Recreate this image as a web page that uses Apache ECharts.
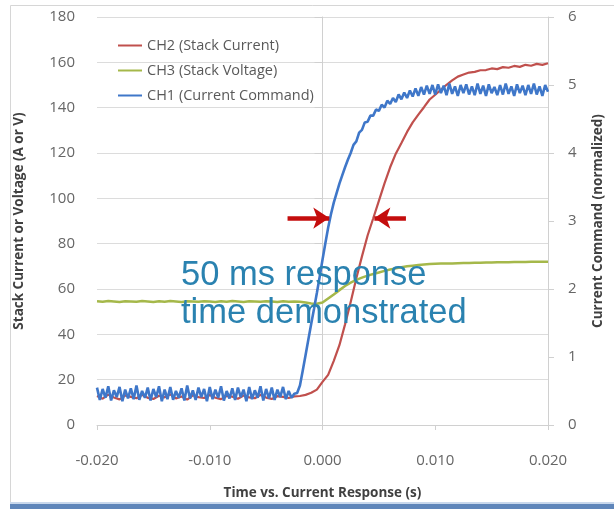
<!DOCTYPE html>
<html><head><meta charset="utf-8">
<script src="https://cdn.jsdelivr.net/npm/echarts@6/dist/echarts.min.js"></script>
<style>html,body{margin:0;padding:0;background:#fff}#c{width:614px;height:509px}</style>
</head><body><div id="c"></div>
<script>
// time samples (s) for CH2 / CH3
const timeS = [-0.0200,-0.0195,-0.0190,-0.0185,-0.0180,-0.0175,-0.0170,-0.0165,-0.0160,-0.0155,
-0.0150,-0.0145,-0.0140,-0.0135,-0.0130,-0.0125,-0.0120,-0.0115,-0.0110,-0.0105,
-0.0100,-0.0095,-0.0090,-0.0085,-0.0080,-0.0075,-0.0070,-0.0065,-0.0060,-0.0055,
-0.0050,-0.0045,-0.0040,-0.0035,-0.0030,-0.0025,-0.0020,-0.0015,-0.0010,-0.0005,
0.0000,0.0005,0.0010,0.0015,0.0020,0.0025,0.0030,0.0035,0.0040,0.0045,
0.0050,0.0055,0.0060,0.0065,0.0070,0.0075,0.0080,0.0085,0.0090,0.0095,
0.0100,0.0105,0.0110,0.0115,0.0120,0.0125,0.0130,0.0135,0.0140,0.0145,
0.0150,0.0155,0.0160,0.0165,0.0170,0.0175,0.0180,0.0185,0.0190,0.0195,0.0200];

// CH2 Stack Current (A) - left axis
const ch2Current = [12.8,11.6,13.4,12.1,11.3,13.0,12.4,11.8,13.3,12.0,
11.5,12.9,12.2,13.5,11.7,12.6,11.2,13.1,12.3,11.9,
13.2,12.0,11.4,12.8,12.5,11.6,13.0,12.2,11.8,13.3,
12.1,11.5,12.7,12.4,11.9,12.6,12.8,13.3,14.2,15.6,
19.0,22.1,28.3,35.2,44.4,54.3,64.7,74.4,83.6,91.2,
98.9,106.6,113.7,119.7,124.4,129.3,133.5,136.9,140.2,143.6,
145.7,147.9,150.1,152.0,153.7,154.6,155.5,155.8,156.5,156.6,
157.3,157.0,157.9,157.6,158.4,158.0,158.9,158.5,159.3,158.9,159.6];

// CH3 Stack Voltage (V) - left axis
const ch3Voltage = [54.6,54.4,54.7,54.5,54.3,54.6,54.5,54.4,54.7,54.5,
54.3,54.6,54.4,54.7,54.5,54.3,54.6,54.5,54.4,54.6,
54.5,54.3,54.6,54.4,54.7,54.5,54.3,54.6,54.5,54.4,
54.6,54.5,54.3,54.6,54.4,54.5,54.4,54.0,53.6,53.5,
54.0,55.8,57.6,59.5,61.3,62.8,64.0,65.0,65.9,66.6,
67.3,68.0,68.6,69.1,69.6,70.0,70.3,70.6,70.8,71.0,
71.1,71.2,71.3,71.3,71.4,71.5,71.5,71.6,71.6,71.7,
71.7,71.8,71.8,71.8,71.9,71.9,71.9,72.0,72.0,72.0,72.0];

// finer time samples (s) for CH1
const timeFine = [-0.02000,-0.01975,-0.01950,-0.01925,-0.01900,-0.01875,-0.01850,-0.01825,
-0.01800,-0.01775,-0.01750,-0.01725,-0.01700,-0.01675,-0.01650,-0.01625,
-0.01600,-0.01575,-0.01550,-0.01525,-0.01500,-0.01475,-0.01450,-0.01425,
-0.01400,-0.01375,-0.01350,-0.01325,-0.01300,-0.01275,-0.01250,-0.01225,
-0.01200,-0.01175,-0.01150,-0.01125,-0.01100,-0.01075,-0.01050,-0.01025,
-0.01000,-0.00975,-0.00950,-0.00925,-0.00900,-0.00875,-0.00850,-0.00825,
-0.00800,-0.00775,-0.00750,-0.00725,-0.00700,-0.00675,-0.00650,-0.00625,
-0.00600,-0.00575,-0.00550,-0.00525,-0.00500,-0.00475,-0.00450,-0.00425,
-0.00400,-0.00375,-0.00350,-0.00325,-0.00300,-0.00275,-0.00250,-0.00225,
-0.00200,-0.00175,-0.00150,-0.00125,-0.00100,-0.00075,-0.00050,-0.00025,
0.00000,0.00025,0.00050,0.00075,0.00100,0.00125,0.00150,0.00175,
0.00200,0.00225,0.00250,0.00275,0.00300,0.00325,0.00350,0.00375,
0.00400,0.00425,0.00450,0.00475,0.00500,0.00525,0.00550,0.00575,
0.00600,0.00625,0.00650,0.00675,0.00700,0.00725,0.00750,0.00775,
0.00800,0.00825,0.00850,0.00875,0.00900,0.00925,0.00950,0.00975,
0.01000,0.01025,0.01050,0.01075,0.01100,0.01125,0.01150,0.01175,
0.01200,0.01225,0.01250,0.01275,0.01300,0.01325,0.01350,0.01375,
0.01400,0.01425,0.01450,0.01475,0.01500,0.01525,0.01550,0.01575,
0.01600,0.01625,0.01650,0.01675,0.01700,0.01725,0.01750,0.01775,
0.01800,0.01825,0.01850,0.01875,0.01900,0.01925,0.01950,0.01975,
0.02000];

// CH1 Current Command (normalized) - right axis
const ch1Command = [0.55,0.37,0.53,0.40,0.57,0.36,0.51,0.41,
0.56,0.35,0.52,0.39,0.54,0.38,0.58,0.37,
0.50,0.40,0.55,0.36,0.53,0.41,0.57,0.35,
0.52,0.38,0.56,0.37,0.50,0.40,0.54,0.36,
0.58,0.39,0.51,0.37,0.55,0.41,0.53,0.35,
0.56,0.38,0.52,0.40,0.57,0.36,0.50,0.39,
0.54,0.37,0.55,0.41,0.52,0.35,0.56,0.38,
0.51,0.40,0.57,0.36,0.53,0.39,0.55,0.37,
0.52,0.41,0.56,0.38,0.50,0.40,0.46,0.47,
0.58,0.80,1.03,1.26,1.49,1.71,1.94,2.18,
2.43,2.67,2.90,3.10,3.27,3.41,3.55,3.67,
3.79,3.90,4.00,4.12,4.17,4.30,4.34,4.45,
4.46,4.55,4.55,4.64,4.62,4.71,4.67,4.77,
4.72,4.81,4.75,4.86,4.79,4.89,4.81,4.92,
4.83,4.95,4.84,4.97,4.86,4.99,4.87,5.00,
4.86,5.01,4.88,4.99,4.85,5.02,4.87,4.98,
4.84,5.00,4.88,5.01,4.86,4.98,4.85,5.02,
4.87,4.99,4.84,5.01,4.88,4.97,4.85,5.00,
4.86,5.02,4.87,4.98,4.84,5.01,4.88,4.99,
4.85,5.00,4.87,5.02,4.86,4.98,4.84,5.00,
4.90];

const xTicks = [-0.020,-0.010,0.000,0.010,0.020];
const leftTicks = [0,20,40,60,80,100,120,140,160,180];
const rightTicks = [0,1,2,3,4,5,6];
const seriesNames = ['CH2 (Stack Current)','CH3 (Stack Voltage)','CH1 (Current Command)'];
// annotation arrows (time, level)
const arrowLevel = 91.3;
const arrowLeft = [-0.0031, 0.0006];
const arrowRight = [0.0074, 0.0046];

const pairs = (ts, vals) => vals.map((v,i)=>[ts[i], v]);
const FONT = "'Open Sans', 'Liberation Sans', sans-serif";
const chart = echarts.init(document.getElementById('c'), null, {renderer:'canvas'});
chart.setOption({
  animation:false,
  backgroundColor:'#fff',
  grid:{left:97,right:66,top:17,bottom:84},
  legend:{
    orient:'vertical', left:113, top:33, itemWidth:24, itemHeight:2, itemGap:10,
    icon:'rect',
    textStyle:{fontFamily:FONT,fontSize:14.5,color:'#595959'},
    data:seriesNames
  },
  xAxis:{
    type:'value', min:-0.02, max:0.02, interval:0.01,
    name:'Time vs. Current Response (s)', nameLocation:'middle', nameGap:61,
    nameTextStyle:{fontFamily:FONT,fontSize:13.5,fontWeight:'bold',color:'#404040'},
    axisLine:{show:true,lineStyle:{color:'#d0d0d0'}},
    axisTick:{show:true,length:5,lineStyle:{color:'#d0d0d0'}},
    axisLabel:{margin:28,fontFamily:FONT,fontSize:15,color:'#666',
      formatter:(v)=>{const t=xTicks.reduce((a,b)=>Math.abs(b-v)<Math.abs(a-v)?b:a);return t.toFixed(3);}},
    splitLine:{show:false}
  },
  yAxis:[{
    type:'value', min:0, max:180, interval:20, position:'left',
    name:'Stack Current or Voltage (A or V)', nameLocation:'middle', nameGap:71,
    nameTextStyle:{fontFamily:FONT,fontSize:13.5,fontWeight:'bold',color:'#404040'},
    axisLine:{show:true,lineStyle:{color:'#d0d0d0'}},
    axisTick:{show:true,length:8,lineStyle:{color:'#d0d0d0'}},
    axisLabel:{margin:22,fontFamily:FONT,fontSize:15,color:'#666',
      formatter:(v)=>String(leftTicks.reduce((a,b)=>Math.abs(b-v)<Math.abs(a-v)?b:a))},
    splitLine:{show:true,lineStyle:{color:'#dcdcdc'}}
  },{
    type:'value', min:0, max:6, interval:1, position:'right',
    name:'Current Command (normalized)', nameLocation:'middle', nameGap:43,
    nameTextStyle:{fontFamily:FONT,fontSize:13.5,fontWeight:'bold',color:'#404040'},
    axisLine:{show:true,lineStyle:{color:'#d0d0d0'}},
    axisTick:{show:true,length:6,lineStyle:{color:'#d0d0d0'}},
    axisLabel:{margin:20,fontFamily:FONT,fontSize:15,color:'#666',
      formatter:(v)=>String(rightTicks.reduce((a,b)=>Math.abs(b-v)<Math.abs(a-v)?b:a))},
    splitLine:{show:false}
  }],
  series:[
    {name:seriesNames[0],type:'line',yAxisIndex:0,data:pairs(timeS,ch2Current),showSymbol:false,symbol:'none',
     lineStyle:{color:'#c0504d',width:2.2},itemStyle:{color:'#c0504d'},
     markLine:{silent:true,animation:false,label:{show:false},symbolSize:[16,16],
       lineStyle:{color:'#c40d0d',width:4.5,type:'solid'},
       data:[
         [{coord:[arrowLeft[0],arrowLevel],symbol:'none'},{coord:[arrowLeft[1],arrowLevel],symbol:'arrow'}],
         [{coord:[arrowRight[0],arrowLevel],symbol:'none'},{coord:[arrowRight[1],arrowLevel],symbol:'arrow'}]
       ]}},
    {name:seriesNames[1],type:'line',yAxisIndex:0,data:pairs(timeS,ch3Voltage),showSymbol:false,symbol:'none',
     lineStyle:{color:'#a5b84a',width:2.5},itemStyle:{color:'#a5b84a'}},
    {name:seriesNames[2],type:'line',yAxisIndex:1,data:pairs(timeFine,ch1Command),showSymbol:false,symbol:'none',
     lineStyle:{color:'#3f77c9',width:2.6},itemStyle:{color:'#3f77c9'}}
  ],
  graphic:[
    {type:'rect',shape:{x:10.5,y:5.5,width:640,height:520},style:{fill:null,stroke:'#d6d6d6',lineWidth:1},silent:true,z:-1},
    {type:'rect',shape:{x:10,y:502,width:604,height:2},style:{fill:'#c9d8ec'},silent:true},
    {type:'rect',shape:{x:10,y:504,width:604,height:5},style:{fill:'#5f86ba'},silent:true},
    {type:'text',left:181,top:256,silent:true,z:100,
     style:{text:'50 ms response\ntime demonstrated',fontFamily:"'Liberation Sans', Arial, sans-serif",fontSize:34.5,lineHeight:38,fill:'#2a82b0'}}
  ]
});
</script></body></html>
